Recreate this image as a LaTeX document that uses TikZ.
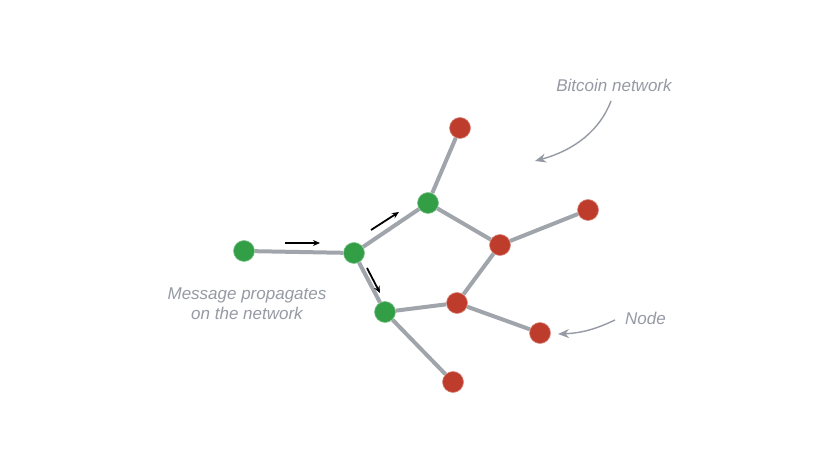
\documentclass[tikz,border=0pt]{standalone}
\usepackage{fontspec}
\setmainfont{Liberation Sans}
\usetikzlibrary{arrows.meta}
\definecolor{gnode}{RGB}{50,158,70}
\definecolor{rnode}{RGB}{190,60,44}
\definecolor{edgegray}{RGB}{160,165,172}
\definecolor{txtgray}{RGB}{150,154,164}
\tikzset{
  greennode/.style={circle,fill=gnode,draw=gnode!60!white,line width=0.6bp,minimum size=21bp,inner sep=0pt},
  rednode/.style={circle,fill=rnode,draw=rnode!60!white,line width=0.6bp,minimum size=21bp,inner sep=0pt},
  link/.style={draw=edgegray,line width=4bp},
  flow/.style={draw=black,line width=1.8bp,-{Stealth[length=7bp,width=6bp]}},
  pointer/.style={draw=txtgray,line width=1.4bp,-{Stealth[length=11bp,width=9bp]}},
  label/.style={text=txtgray,font=\fontsize{17bp}{20bp}\selectfont\itshape,align=center,inner sep=0pt}
}
\begin{document}
\begin{tikzpicture}[x=1bp,y=-1bp]
\useasboundingbox (0,0) rectangle (830,467);
\fill[white] (0,0) rectangle (830,467);
% nodes
\node[greennode] (g1) at (244,251) {};
\node[greennode] (g2) at (354,253) {};
\node[greennode] (g3) at (428,203) {};
\node[greennode] (g4) at (385,312) {};
\node[rednode] (r1) at (460,128) {};
\node[rednode] (r2) at (500,245) {};
\node[rednode] (r3) at (588,210) {};
\node[rednode] (r4) at (457,303) {};
\node[rednode] (r5) at (540,333) {};
\node[rednode] (r6) at (453,382) {};
% links
\path[link] (g1) -- (g2);
\path[link] (g2) -- (g3);
\path[link] (g2) -- (g4);
\path[link] (g3) -- (r1);
\path[link] (g3) -- (r2);
\path[link] (r2) -- (r3);
\path[link] (r2) -- (r4);
\path[link] (r4) -- (g4);
\path[link] (r4) -- (r5);
\path[link] (g4) -- (r6);
% flow arrows
\coordinate (a1s) at (285,243);
\coordinate (a1e) at (320,243);
\coordinate (a2s) at (371,230);
\coordinate (a2e) at (399,212);
\coordinate (a3s) at (367,268);
\coordinate (a3e) at (380,293);
\path[flow] (a1s) -- (a1e);
\path[flow] (a2s) -- (a2e);
\path[flow] (a3s) -- (a3e);
% labels
\node[label] (bn) at (614,85) {Bitcoin network};
\node[label] (nd) at (645.5,318) {Node};
\node[label] (mp) at (247,303.5) {Message propagates\\on the network};
% pointers
\coordinate (p1s) at (611,101);
\coordinate (p1e) at (535,161);
\path[pointer] (p1s) .. controls (600,130) and (575,150) .. (p1e);
\coordinate (p2s) at (615,320);
\coordinate (p2e) at (558,334);
\path[pointer] (p2s) .. controls (600,327) and (585,333) .. (p2e);
\end{tikzpicture}
\end{document}
